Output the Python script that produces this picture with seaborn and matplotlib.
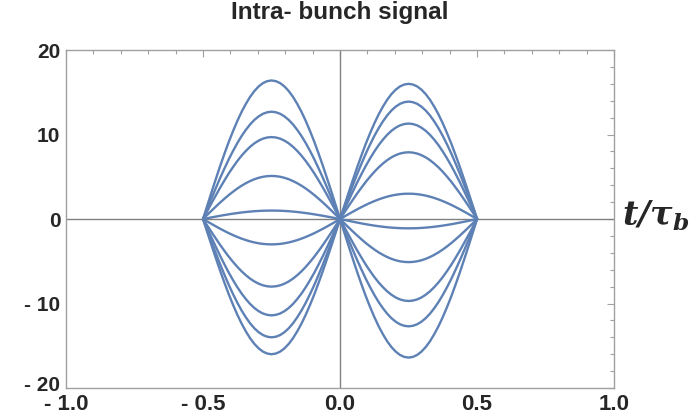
import numpy as np
import pandas as pd
import matplotlib
matplotlib.use('Agg')
import matplotlib.pyplot as plt
import matplotlib.transforms as mtransforms
import seaborn as sns
from matplotlib.ticker import MultipleLocator

# peak values of each curve at t = -0.25 (left hump) and t = +0.25 (right hump)
left_peaks = [16.4, 12.7, 9.7, 5.1, 1.0, -3.0, -8.0, -11.4, -14.0, -16.0]
right_peaks = [16.0, 13.9, 11.3, 7.9, 3.0, -1.1, -5.1, -9.7, -12.7, -16.4]

# hump profile across one half (node -> peak -> node)
hump_rise = [0.0, 0.098, 0.195, 0.290, 0.383, 0.471, 0.556, 0.634, 0.707,
             0.773, 0.831, 0.882, 0.924, 0.957, 0.981, 0.995, 1.0]
hump_shape = hump_rise + hump_rise[-2::-1]

x_ticks = [-1.0, -0.5, 0.0, 0.5, 1.0]
x_labels = ['- 1.0', '- 0.5', '0.0', '0.5', '1.0']
y_ticks = [-20, -10, 0, 10, 20]
y_labels = ['- 20', '- 10', '0', '10', '20']

line_color = '#5E81B5'
frame_color = '#A0A0A0'

sns.set_style('white')
plt.rcParams['font.family'] = ['Liberation Sans', 'DejaVu Sans']
plt.rcParams['mathtext.fontset'] = 'custom'
plt.rcParams['mathtext.bf'] = 'DejaVu Serif:italic:bold'

# long table: one row per sample point
t_left = np.linspace(-0.5, 0.0, len(hump_shape))
t_right = np.linspace(0.0, 0.5, len(hump_shape))[1:]
rows = []
for i, (lp, rp) in enumerate(zip(left_peaks, right_peaks)):
    for t, s in zip(t_left, hump_shape):
        rows.append({'curve': i, 't': t, 'signal': lp * s})
    for t, s in zip(t_right, hump_shape[1:]):
        rows.append({'curve': i, 't': t, 'signal': rp * s})
df = pd.DataFrame(rows)

fig = plt.figure(figsize=(7, 4.17), dpi=100)
ax = fig.add_axes([0.0943, 0.0695, 0.783, 0.8105])

# axes through the origin
ax.axhline(0, color='#808080', lw=1.0, zorder=1)
ax.axvline(0, color='#808080', lw=1.0, zorder=1)

sns.lineplot(data=df, x='t', y='signal', units='curve', estimator=None,
             sort=False, color=line_color, lw=1.7, ax=ax, zorder=3)

ax.set_xlim(-1, 1)
ax.set_ylim(-20, 20)
ax.set_xticks(x_ticks)
ax.set_xticklabels(x_labels)
ax.set_yticks(y_ticks)
ax.set_yticklabels(y_labels)
ax.xaxis.set_minor_locator(MultipleLocator(0.1))
ax.yaxis.set_minor_locator(MultipleLocator(2))
ax.tick_params(which='both', direction='in', top=True, right=True,
               color=frame_color, width=0.8)
ax.tick_params(which='major', length=5)
ax.tick_params(axis='x', which='major', pad=4, labelsize=16)
ax.tick_params(axis='y', which='major', pad=4, labelsize=15)
ax.tick_params(which='minor', length=3)
for lab in ax.get_xticklabels() + ax.get_yticklabels():
    lab.set_fontweight('bold')
# lift the bottom y label a little so it clears the "- 1.0" below it
bottom_lab = ax.get_yticklabels()[0]
bottom_lab.set_transform(bottom_lab.get_transform() +
                         mtransforms.ScaledTranslation(0, 3 / 72, fig.dpi_scale_trans))
for sp in ax.spines.values():
    sp.set_color(frame_color)
    sp.set_linewidth(1.0)

ax.set_xlabel('')
ax.set_ylabel('')
ax.set_title('Intra- bunch signal', fontsize=17.5, fontweight='bold', pad=22)

ax.text(1.015, 0.51, r'$\mathbf{t/\tau_b}$', transform=ax.transAxes,
        fontsize=24, ha='left', va='center')

fig.savefig('out.png', dpi=100)
